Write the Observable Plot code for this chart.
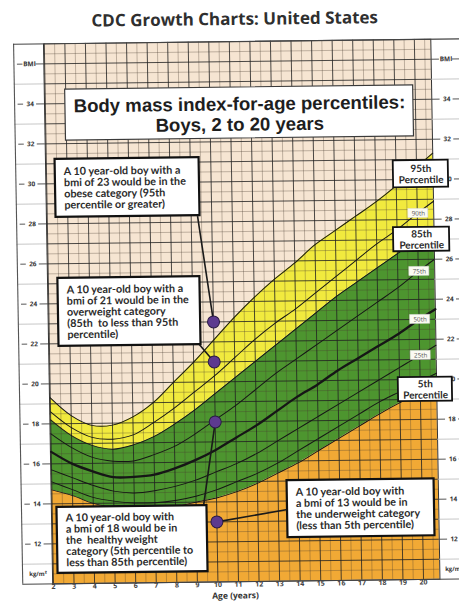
<!DOCTYPE html>
<html><head><meta charset="utf-8">
<script src="https://cdn.jsdelivr.net/npm/d3@7"></script>
<script src="https://cdn.jsdelivr.net/npm/@observablehq/plot@0.6"></script>
<style>
html,body{margin:0;padding:0;background:#fff;overflow:hidden;}
#wrap{position:relative;width:459px;height:603px;transform-origin:229.5px 301.5px;transform:matrix(1,-0.012,0.017,1,0,0);}
#title{height:36px;padding-left:20px;box-sizing:border-box;text-align:center;font:700 17px "Open Sans",sans-serif;line-height:38px;color:#2f2f2f;}
#chart svg{display:block;}
</style></head><body>
<div id="wrap"><div id="title">CDC Growth Charts: United States</div><div id="chart"></div></div>
<script>
// ---------- data ----------
const ages = [2,3,4,5,6,7,8,9,10,11,12,13,14,15,16,17,18,19,20,20.8];
const p5  = [14.7,14.4,14.0,13.8,13.7,13.7,13.8,14.0,14.2,14.5,14.9,15.4,15.9,16.5,17.1,17.7,18.3,18.85,19.3,19.7];
const p10 = [15.1,14.7,14.3,14.1,14.0,14.0,14.1,14.3,14.6,15.0,15.4,15.9,16.5,17.1,17.7,18.3,18.9,19.4,19.9,20.3];
const p25 = [15.7,15.3,14.9,14.6,14.5,14.6,14.8,15.1,15.5,15.9,16.4,17.0,17.6,18.2,18.8,19.4,20.0,20.6,21.2,21.7];
const p50 = [16.6,16.0,15.6,15.3,15.3,15.4,15.7,16.1,16.6,17.2,17.8,18.5,19.2,19.8,20.5,21.1,21.7,22.3,23.0,23.5];
const p75 = [17.5,16.8,16.3,16.1,16.1,16.4,16.8,17.4,18.1,18.8,19.6,20.4,21.1,21.8,22.5,23.2,23.9,24.6,25.4,26.0];
const p85 = [18.2,17.4,16.9,16.7,16.9,17.3,17.9,18.6,19.4,20.2,21.0,21.8,22.6,23.4,24.2,24.9,25.6,26.3,27.0,27.6];
const p90 = [18.6,17.8,17.3,17.2,17.4,18.0,18.7,19.5,20.3,21.2,22.1,22.9,23.6,24.4,25.2,26.0,26.8,27.5,28.3,28.9];
const p95 = [19.3,18.4,17.9,17.9,18.3,19.0,20.0,21.0,22.1,23.2,24.2,25.1,25.9,26.8,27.5,28.2,28.9,29.7,30.6,31.3];

const xTickLabels = [2,3,4,5,6,7,8,9,10,11,12,13,14,15,16,17,18,19,20];
const yTickLabels = [12,14,16,18,20,22,24,26,28,30,32,34];
const yUnitLabels = ["BMI","kg/m²"];

const exampleAges = [10,10,10,10];
const exampleBmi  = [23,21,18,13];

const chartTitle = ["Body mass index-for-age percentiles:\nBoys, 2 to 20 years"];
const annotationTexts = [
  "A 10 year-old boy with a\nbmi of 23 would be in the\nobese category (95th\npercentile or greater)",
  "A 10 year-old boy with a\nbmi of 21 would be in the\noverweight category\n(85th  to less than 95th\npercentile)",
  "A 10 year-old boy with\na bmi of 18 would be in\nthe  healthy weight\ncategory (5th percentile to\nless than 85th percentile)",
  "A 10 year-old boy with\na bmi of 13 would be in\nthe underweight category\n(less than 5th percentile)"
];
const bigLabels = ["95th\nPercentile","85th\nPercentile","5th\nPercentile"];
const smallLabels = ["90th","75th","50th","25th"];
const smallLabelKeys = ["p90","p75","p50","p25"];

// ---------- layout ----------
const W = 459, H = 567;
const mL = 47.4, mR = 24.3, mT = 5.2, mB = 21.8;
const xDomain = [1.96, 20.8], yDomain = [10, 37];
const pxX = (W - mL - mR) / (xDomain[1] - xDomain[0]);
const xAt = px => xDomain[0] + (px - mL) / pxX;

const annotationLayout = [
  {x: 5.93, y: 29.77, w: 144, h: 58},
  {x: 5.92, y: 23.57, w: 142, h: 68},
  {x: 5.88, y: 12.17, w: 150, h: 66},
  {x: 17.02, y: 13.6, w: 147, h: 57}
];
const leaderStarts = [
  {x: 9.31, y: 28.3},
  {x: 9.25, y: 21.93},
  {x: 9.36, y: 13.78},
  {x: 13.44, y: 13.58}
];
const bigLayout = [
  {x: 20.21, y: 30.27, w: 55, h: 27},
  {x: 20.19, y: 27.0, w: 56, h: 24},
  {x: 20.25, y: 19.5, w: 54, h: 24}
];
const titleLayout = {x: 11.44, y: 33.43, w: 348, h: 51};

const colors = {beige: "#f6e5d2", orange: "#f1a935", green: "#4d952f", yellow: "#f1ea3e", purple: "#5d3a8f"};

// ---------- table ----------
const rows = ages.map((a, i) => ({age: a, p5: p5[i], p10: p10[i], p25: p25[i], p50: p50[i], p75: p75[i], p85: p85[i], p90: p90[i], p95: p95[i]}));
const idx20 = ages.indexOf(20);
const dots = exampleAges.map((a, i) => ({age: a, bmi: exampleBmi[i]}));

function box(x, y, w, h, opts) {
  return Plot.rect([0], {x1: () => x, x2: () => x, y1: () => y, y2: () => y,
    insetLeft: -w / 2, insetRight: -w / 2, insetTop: -h / 2, insetBottom: -h / 2, ...opts});
}

const marks = [];
marks.push(Plot.frame({fill: colors.beige}));
// bands
marks.push(Plot.areaY(rows, {x: "age", y1: () => yDomain[0], y2: "p5", fill: colors.orange, curve: "catmull-rom"}));
marks.push(Plot.areaY(rows, {x: "age", y1: "p5", y2: "p85", fill: colors.green, curve: "catmull-rom"}));
marks.push(Plot.areaY(rows, {x: "age", y1: "p85", y2: "p95", fill: colors.yellow, curve: "catmull-rom"}));
// grid
marks.push(Plot.ruleX(d3.range(2.5, 20.6, 1), {stroke: "#4a3c30", strokeWidth: 0.6, strokeOpacity: 0.55}));
marks.push(Plot.ruleY(d3.range(10.5, 37, 1), {stroke: "#4a3c30", strokeWidth: 0.6, strokeOpacity: 0.55}));
marks.push(Plot.ruleX(d3.range(2, 21, 1), {stroke: "#222", strokeWidth: 0.95, strokeOpacity: 0.85}));
marks.push(Plot.ruleY(d3.range(11, 37, 1), {stroke: "#222", strokeWidth: 0.95, strokeOpacity: 0.85}));
marks.push(Plot.frame({stroke: "#333", strokeWidth: 1}));
// percentile curves
for (const k of ["p5","p10","p25","p50","p75","p85","p90","p95"]) {
  marks.push(Plot.line(rows, {x: "age", y: k, stroke: "#161616", strokeWidth: k === "p50" ? 2.3 : 1, curve: "catmull-rom"}));
}
// margins
const oddLines = d3.range(11, 36, 2);
const tickRows = yTickLabels.map(v => ({y: v, t: String(v)})).concat([{y: 36, t: yUnitLabels[0]}]);
const unitRow = [{y: 10.5, t: yUnitLabels[1]}];
marks.push(Plot.ruleY(oddLines, {x1: xAt(17.5), x2: xDomain[0], stroke: "#b9b9b9", strokeWidth: 0.8}));
marks.push(Plot.ruleY(oddLines, {x1: xDomain[1], x2: xAt(470), stroke: "#b9b9b9", strokeWidth: 0.8}));
marks.push(Plot.ruleY(tickRows, {y: "y", x1: xAt(21), x2: xAt(26.5), stroke: "#444", strokeWidth: 0.9}));
marks.push(Plot.ruleY(tickRows, {y: "y", x1: xAt(39.5), x2: xDomain[0], stroke: "#444", strokeWidth: 0.9}));
marks.push(Plot.ruleY(tickRows, {y: "y", x1: xDomain[1], x2: xAt(443), stroke: "#444", strokeWidth: 0.9}));
marks.push(Plot.ruleY(tickRows, {y: "y", x1: xAt(456), x2: xAt(470), stroke: "#444", strokeWidth: 0.9}));
marks.push(Plot.text(tickRows, {x: xAt(33), y: "y", text: "t", fontSize: 6.5, fontWeight: "bold", fill: "#333", fontFamily: "Open Sans"}));
marks.push(Plot.text(tickRows, {x: xAt(449.5), y: "y", text: "t", fontSize: 6.5, fontWeight: "bold", fill: "#333", fontFamily: "Open Sans"}));
marks.push(Plot.text(unitRow, {x: xAt(33), y: "y", text: "t", fontSize: 6, fontWeight: "bold", fill: "#333", fontFamily: "Open Sans"}));
marks.push(Plot.text(unitRow, {x: xAt(440), y: "y", text: "t", fontSize: 6, fontWeight: "bold", fill: "#333", fontFamily: "Open Sans", textAnchor: "start"}));
// outer frame lines
marks.push(Plot.ruleX([xAt(17.5)], {y1: yDomain[0], y2: yDomain[1], stroke: "#555", strokeWidth: 1.1}));
marks.push(Plot.ruleY(yDomain, {x1: xAt(17.5), x2: xAt(470), stroke: "#444", strokeWidth: 1.1}));
// x labels
marks.push(Plot.text(xTickLabels, {x: d => d, frameAnchor: "bottom", dy: 5, fontSize: 7, fontWeight: "bold", fill: "#444", fontFamily: "Open Sans"}));
marks.push(Plot.text(["Age (years)"], {frameAnchor: "bottom", dy: 16.8, dx: -11, fontSize: 8.5, fontWeight: "bold", fill: "#333", fontFamily: "Open Sans"}));
// title box
marks.push(box(titleLayout.x, titleLayout.y, titleLayout.w, titleLayout.h, {fill: "#fff", stroke: "#3a3a3a", strokeWidth: 1.2}));
marks.push(Plot.text(chartTitle, {x: () => titleLayout.x, y: () => titleLayout.y, text: d => d, fontSize: 18.6, fontWeight: "bold", fontFamily: "Liberation Sans, Arial", fill: "#1e1e1e", lineHeight: 1.1, dy: 1}));
// small curve labels
smallLabels.forEach((lab, i) => {
  const y = rows[idx20][smallLabelKeys[i]];
  marks.push(box(20.05, y, 20, 9, {fill: "#fbfbf3", stroke: "#ddd", strokeWidth: 0.5}));
  marks.push(Plot.text([lab], {x: () => 20.05, y: () => y, text: d => d, fontSize: 6.3, fill: "#555", fontFamily: "Open Sans"}));
});
// big percentile labels
bigLabels.forEach((lab, i) => {
  const L = bigLayout[i];
  marks.push(box(L.x, L.y, L.w, L.h, {fill: "#fff", stroke: "#111", strokeWidth: 1.8}));
  marks.push(Plot.text([lab], {x: () => L.x, y: () => L.y, text: d => d, fontSize: 10, fontWeight: "bold", fill: "#2a2a2a", fontFamily: "Lato", lineHeight: 1.12}));
});
// leader lines
const links = leaderStarts.map((s, i) => ({x1: s.x, y1: s.y, x2: exampleAges[i], y2: exampleBmi[i]}));
marks.push(Plot.link(links, {x1: "x1", y1: "y1", x2: "x2", y2: "y2", stroke: "#1a1a1a", strokeWidth: 1.6}));
// annotation boxes
annotationTexts.forEach((t, i) => {
  const L = annotationLayout[i];
  marks.push(box(L.x, L.y, L.w, L.h, {fill: "#fff", stroke: "#111", strokeWidth: 2.2}));
  marks.push(Plot.text([t], {x: () => L.x, y: () => L.y, text: d => d, textAnchor: "start", dx: -L.w / 2 + 8.5, fontSize: 10.8, fontWeight: "bold", fill: "#2b2b2b", fontFamily: "Lato", lineHeight: 1.04}));
});
// example points
marks.push(Plot.dot(dots, {x: "age", y: "bmi", r: 6, fill: colors.purple, stroke: "#2a1a44", strokeWidth: 1}));

const chart = Plot.plot({
  width: W, height: H,
  marginLeft: mL, marginRight: mR, marginTop: mT, marginBottom: mB,
  x: {domain: xDomain, axis: null},
  y: {domain: yDomain, axis: null},
  style: {background: "transparent", overflow: "visible"},
  marks
});
document.getElementById("chart").appendChild(chart);
</script>
</body></html>
